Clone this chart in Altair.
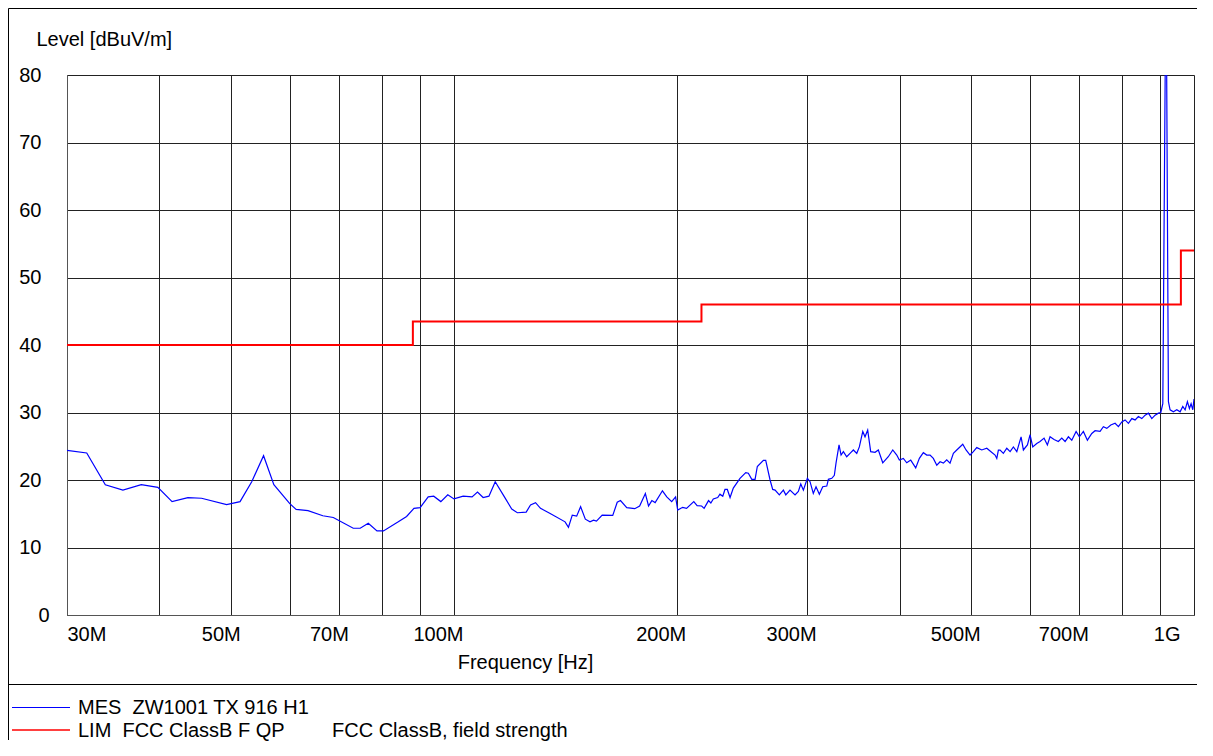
import altair as alt
import pandas as pd

# ---- data ----
mes_freq_mhz = [30.0, 31.9, 33.8, 35.7, 37.8, 39.8, 41.6, 43.7, 45.6, 49.3, 51.4, 53.3, 55.3, 57.1, 60.0,
                61.2, 63.5, 66.5, 68.7, 73.1, 74.7, 76.6, 78.7, 80.3, 84.1, 86.3, 88.3, 90.0, 92.3, 93.9,
                96.0, 98.1, 100.0, 102.9, 105.8, 107.6, 109.5, 111.5, 113.7, 117.0, 119.7, 121.8, 125.2,
                126.9, 128.9, 130.9, 134.9, 141.3, 142.8, 144.5, 146.5, 148.3, 150.5, 152.7, 154.4, 155.8,
                158.6, 163.9, 166.2, 167.9, 171.2, 175.5, 178.2, 181.4, 183.2, 185.1, 187.0, 191.3, 193.9,
                196.9, 199.3, 200.6, 203.7, 206.2, 210.9, 213.1, 216.1, 217.8, 220.8, 222.4, 224.1, 227.2,
                228.8, 230.8, 232.4, 234.1, 236.1, 238.5, 243.5, 247.9, 249.9, 252.6, 255.2, 257.0, 261.9,
                263.8, 267.4, 269.6, 271.6, 275.2, 278.7, 280.8, 284.5, 289.0, 292.0, 294.2, 296.6, 300.3,
                302.8, 305.9, 308.5, 311.7, 315.0, 319.0, 320.6, 324.0, 326.6, 328.3, 331.4, 333.5, 335.9,
                339.4, 343.7, 346.5, 350.2, 353.0, 356.8, 359.3, 362.3, 365.7, 370.7, 374.5, 379.7, 386.3,
                391.7, 396.6, 399.8, 404.8, 409.1, 414.2, 420.7, 425.5, 430.8, 435.4, 439.9, 444.4, 449.2,
                453.8, 458.5, 463.3, 468.1, 473.0, 478.0, 487.0, 492.0, 498.2, 503.3, 508.7, 516.7, 524.8,
                530.2, 538.5, 541.4, 544.1, 547.0, 552.6, 558.5, 564.3, 570.1, 576.2, 583.9, 588.1, 595.5,
                600.5, 605.5, 613.1, 619.4, 627.2, 633.7, 639.0, 647.0, 655.7, 662.7, 669.6, 676.5, 683.7,
                692.9, 700.0, 708.8, 717.7, 727.6, 735.1, 746.6, 754.3, 762.4, 771.9, 782.3, 790.4, 798.8,
                807.1, 815.4, 824.1, 832.6, 841.1, 850.1, 858.9, 867.7, 877.0, 886.0, 895.2, 901.9, 907.5,
                916.7, 923.5, 928.3, 937.9, 947.9, 957.7, 965.7, 972.7, 979.7, 985.8, 991.0, 996.3, 1000.0]
mes_level = [24.4, 24.0, 19.3, 18.5, 19.3, 18.9, 16.8, 17.4, 17.3, 16.35, 16.8, 19.75, 23.6, 19.3, 16.5,
             15.65, 15.45, 14.7, 14.45, 12.85, 12.85, 13.6, 12.45, 12.45, 13.8, 14.6, 15.8, 15.9, 17.5, 17.6,
             16.8, 17.8, 17.2, 17.6, 17.5, 18.2, 17.4, 17.6, 19.75, 17.5, 15.7, 15.15, 15.25,
             16.3, 16.65, 15.8, 15.05, 13.8, 13.0, 14.8, 14.65, 16.05, 14.2, 13.8, 14.05, 13.9,
             14.8, 14.75, 16.7, 16.95, 15.9, 15.75, 16.15, 18.0, 16.15, 16.95, 16.65, 18.4, 17.5,
             16.8, 17.5, 15.55, 15.95, 15.8, 16.8, 16.2, 16.15, 15.8, 16.95, 16.6, 17.2, 17.4,
             17.9, 17.6, 18.6, 18.6, 17.4, 18.8, 20.25, 21.1, 21.0, 20.1, 20.1, 22.0, 22.9,
             22.9, 20.0, 18.6, 18.5, 17.8, 18.5, 17.8, 18.5, 17.8, 18.3, 19.4, 18.5, 20.25,
             19.75, 18.0, 19.0, 17.9, 19.0, 19.1, 20.1, 20.25, 20.7, 22.5, 25.2, 23.7, 24.2,
             23.45, 24.05, 24.45, 23.95, 24.9, 27.2, 26.4, 27.4, 24.2, 24.1, 24.45, 22.55, 23.45,
             24.45, 23.7, 22.95, 23.2, 22.55, 22.95, 21.8, 23.2, 24.05, 23.7, 23.7, 23.2, 22.2,
             22.7, 22.5, 23.0, 22.5, 23.95, 24.45, 25.3, 24.45, 23.7, 24.2, 24.8, 24.45, 24.7,
             24.3, 23.7, 23.2, 24.44, 24.44, 23.95, 24.7, 24.2, 24.9, 24.2, 26.4, 24.45, 25.2,
             26.7, 24.9, 25.4, 25.7, 26.2, 25.2, 26.4, 26.0, 25.7, 26.2, 25.7, 26.4, 25.9,
             27.2, 26.4, 27.2, 25.9, 26.9, 27.3, 27.2, 27.9, 27.65, 28.15, 28.4, 27.9, 28.6,
             28.9, 28.4, 29.1, 28.9, 29.4, 29.1, 29.6, 29.9, 29.1, 29.6, 29.9, 30.0, 31.3,
             98.0, 31.6, 30.4, 30.1, 30.4, 30.1, 30.9, 30.4, 31.6, 30.6, 31.3, 30.4, 32.0]

lim_freq_mhz = [30, 88, 88, 216, 216, 960, 960, 1000]
lim_level = [40, 40, 43.5, 43.5, 46, 46, 54, 54]

x_tick_values = [30, 40, 50, 60, 70, 80, 90, 100, 200, 300, 400, 500, 600, 700, 800, 900, 1000]
x_tick_labels = ["30M", "", "50M", "", "70M", "", "", "100M", "200M", "300M", "", "500M", "", "700M", "", "", "1G"]
y_tick_values = [0, 10, 20, 30, 40, 50, 60, 70, 80]

# (second blank of each double space is a no-break space so that SVG keeps it)
series_names = ["MES \u00a0ZW1001 TX 916 H1", "LIM \u00a0FCC ClassB F QP"]
series_notes = ["", "FCC ClassB, field strength"]
series_colors = ["#0000ff", "#ff0000"]

FONT = "Liberation Sans"
FS = 20

mes = pd.DataFrame({"freq": mes_freq_mhz, "level": mes_level,
                    "idx": list(range(len(mes_level)))})
lim = pd.DataFrame({"freq": lim_freq_mhz, "level": lim_level,
                    "idx": list(range(len(lim_level)))})

label_expr = " : ".join(f"datum.value == {v} ? '{t}'" for v, t in zip(x_tick_values, x_tick_labels)) + " : ''"

x_axis = alt.Axis(
    values=x_tick_values, labelExpr=label_expr, title="Frequency [Hz]",
    grid=True, ticks=False, labelFlush=False,
    labelAlign={"condition": {"test": "datum.value <= 30", "value": "left"}, "value": "right"},
    labelOffset={"condition": [{"test": "datum.value <= 30", "value": 0},
                               {"test": "datum.value >= 1000", "value": -14}], "value": 9},
    labelPadding=9, labelBaseline="top",
    labelFont=FONT, labelFontSize=FS, labelColor="#000", labelFontWeight="normal",
    titleFont=FONT, titleFontSize=FS, titleFontWeight="normal", titleColor="#000",
    titleX=458, titleY=53, titleAlign="center", titleBaseline="alphabetic",
    gridColor="#222", gridWidth=1, domainColor="#555", domainWidth=1,
)
y_axis = alt.Axis(
    values=y_tick_values, title="Level [dBuV/m]", grid=True, ticks=False,
    labelPadding={"condition": {"test": "datum.value == 0", "value": 18}, "value": 26},
    labelBaseline="middle", labelFont=FONT, labelFontSize=FS, labelColor="#000",
    titleFont=FONT, titleFontSize=FS, titleFontWeight="normal", titleColor="#000",
    titleAngle=0, titleX=-31, titleY=-30, titleAlign="left", titleBaseline="alphabetic",
    gridColor="#222", gridWidth=1, domainColor="#555", domainWidth=1,
)

xs = alt.X("freq:Q", scale=alt.Scale(type="log", domain=[30, 1000], nice=False), axis=x_axis)
ys = alt.Y("level:Q", scale=alt.Scale(domain=[0, 80], nice=False, zero=True), axis=y_axis)

mes_line = alt.Chart(mes).mark_line(color=series_colors[0], strokeWidth=1.2, clip=True).encode(
    x=xs, y=ys, order="idx:Q")
lim_line = alt.Chart(lim).mark_line(color=series_colors[1], strokeWidth=2, clip=True).encode(
    x=alt.X("freq:Q", scale=alt.Scale(type="log", domain=[30, 1000], nice=False)),
    y=alt.Y("level:Q"), order="idx:Q")

one = pd.DataFrame({"k": [0]})

# frame lines (kept clear of the canvas edge)
frame_left = alt.Chart(one).mark_rule(color="#000", strokeWidth=1).encode(
    x=alt.value(-58.5), y=alt.value(-66.5), y2=alt.value(665))
frame_top = alt.Chart(one).mark_rule(color="#000", strokeWidth=1).encode(
    x=alt.value(-58.5), x2=alt.value(1130), y=alt.value(-66.5))
frame_sep = alt.Chart(one).mark_rule(color="#000", strokeWidth=1).encode(
    x=alt.value(-58.5), x2=alt.value(1130), y=alt.value(609.5))

# legend
leg_layers = []
leg_y_line = [632.5, 655]
leg_y_text = [639, 661.7]
for i in range(2):
    leg_layers.append(alt.Chart(one).mark_rule(color=series_colors[i], strokeWidth=1 if i == 0 else 1.6).encode(
        x=alt.value(-55), x2=alt.value(3), y=alt.value(leg_y_line[i])))
    leg_layers.append(alt.Chart(one).mark_text(text=series_names[i], font=FONT, fontSize=FS, align="left",
                                               baseline="alphabetic", color="#000").encode(
        x=alt.value(11), y=alt.value(leg_y_text[i])))
    if series_notes[i]:
        leg_layers.append(alt.Chart(one).mark_text(text=series_notes[i], font=FONT, fontSize=FS, align="left",
                                                   baseline="alphabetic", color="#000").encode(
            x=alt.value(265), y=alt.value(leg_y_text[i])))

chart = alt.layer(mes_line, lim_line, frame_left, frame_top, frame_sep, *leg_layers).properties(
    width=1127, height=540,
    padding={"left": 59, "top": 67, "right": 11, "bottom": 128},
    autosize=alt.AutoSizeParams(type="none"),
).configure_view(strokeWidth=0).configure(font=FONT, background="#ffffff")

chart.save("out.html", embed_options={"renderer": "svg", "actions": False})
